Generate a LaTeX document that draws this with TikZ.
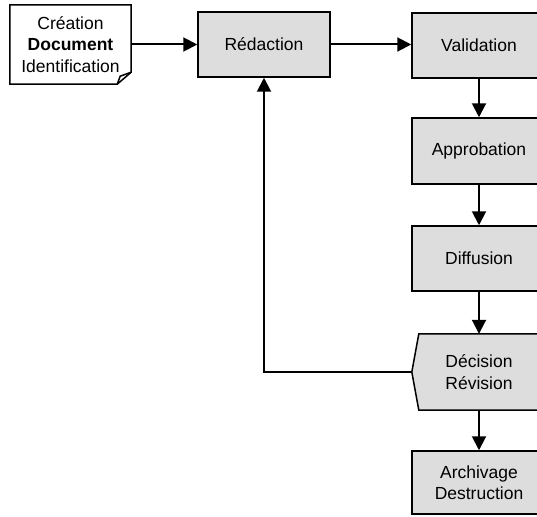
\documentclass[tikz,border=0pt]{standalone}
\usepackage{fontspec}
\setmainfont{Liberation Sans}
\usetikzlibrary{arrows.meta}
\definecolor{boxgray}{RGB}{221,221,221}
\begin{document}
\begin{tikzpicture}[x=1pt,y=-1pt,
  font=\fontsize{17.5}{21.5}\selectfont,
  stage/.style={rectangle, draw=black, fill=boxgray, line width=1.5pt,
    minimum width=134pt, align=center, inner sep=0pt},
  plain/.style={rectangle, align=center, inner sep=0pt},
  arr/.style={line width=2pt, -{Triangle[length=14pt,width=14pt]}}]
\useasboundingbox (0,0) rectangle (537,516);

% source document with a folded corner
\node[plain, minimum width=121pt, minimum height=79pt] (doc) at (70.5,44.5) {};
\draw[line width=1.5pt, fill=white]
  (doc.north west) -- (doc.north east) -- ([yshift=12pt]doc.south east)
  -- ([xshift=-14pt]doc.south east) -- (doc.south west) -- cycle;
\draw[line width=1.5pt, line join=round]
  ([xshift=-14pt]doc.south east) -- ([xshift=-11pt,yshift=8pt]doc.south east)
  -- ([yshift=12pt]doc.south east);
\node[plain] at (doc.center) {Création\\\textbf{Document}\\Identification};

% process stages
\node[stage, minimum width=132pt, minimum height=65pt] (red) at (264,44.5) {Rédaction};
\node[stage, minimum height=65pt] (val) at (479,45.5) {Validation};
\node[stage, minimum height=66pt] (app) at (479,151) {Approbation};
\node[stage, minimum height=65pt] (dif) at (479,258.5) {Diffusion};
\node[plain, minimum width=134pt, minimum height=76pt] (dec) at (479,372) {};
\draw[line width=1.5pt, fill=boxgray]
  ([xshift=7pt]dec.north west) -- (dec.north east) -- (dec.south east)
  -- ([xshift=7pt]dec.south west) -- (dec.west) -- cycle;
\node[plain] at (dec.center) {Décision\\Révision};
\node[stage, minimum height=63pt] (arc) at (479,482.5) {Archivage\\Destruction};

% flow
\draw[arr] (doc.east) -- (red.west);
\draw[arr] (red.east) -- (red.east -| val.west);
\draw[arr] (val.south) -- (app.north);
\draw[arr] (app.south) -- (dif.north);
\draw[arr] (dif.south) -- (dec.north);
\draw[arr] (dec.south) -- (arc.north);
\draw[arr] (dec.west) -| (red.south);
\end{tikzpicture}
\end{document}
